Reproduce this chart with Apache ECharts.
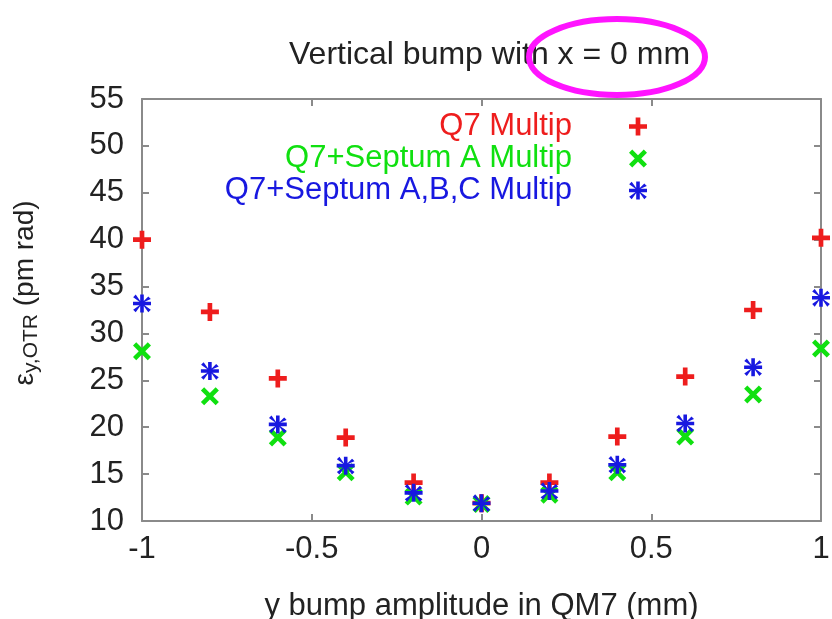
<!DOCTYPE html>
<html>
<head>
<meta charset="utf-8">
<script src="https://cdn.jsdelivr.net/npm/echarts@6/dist/echarts.min.js"></script>
<style>
  html, body { margin: 0; padding: 0; background: #fff; }
  #container { width: 832px; height: 619px; }
</style>
</head>
<body>
<div id="container"></div>
<script>
// bump amplitude (mm)
var bumpY = [-1, -0.8, -0.6, -0.4, -0.2, 0, 0.2, 0.4, 0.6, 0.8, 1];
// emittance values (pm rad)
var q7Multip = [40.0, 32.3, 25.2, 18.9, 14.1, 11.9, 14.1, 19.0, 25.4, 32.5, 40.2];
var septAMultip = [28.1, 23.3, 18.9, 15.2, 12.6, 11.8, 12.8, 15.2, 19.0, 23.5, 28.4];
var septABCMultip = [33.2, 26.0, 20.3, 15.9, 13.0, 11.9, 13.2, 16.0, 20.4, 26.4, 33.8];

var seriesNames = ['Q7 Multip', 'Q7+Septum A Multip', 'Q7+Septum A,B,C Multip'];
var seriesColors = ['#ee1d1d', '#10e010', '#1818e0'];

// marker shapes (gnuplot style +, x, *)
var plusPath = 'path://M3.7,0 H6.3 V3.7 H10 V6.3 H6.3 V10 H3.7 V6.3 H0 V3.7 H3.7 Z';
var crossPath = 'path://M0,1.8 L1.8,0 L5,3.2 L8.2,0 L10,1.8 L6.8,5 L10,8.2 L8.2,10 L5,6.8 L1.8,10 L0,8.2 L3.2,5 Z';
var starPath = 'path://M4,0 H6 V3.6 L8.5,1.1 L8.9,1.5 L9.9,2.5 L6.4,4 H10 V6 H6.4 L9.9,8.5 L8.5,9.9 L6,6.4 V10 H4 V6.4 L1.5,9.9 L0.1,8.5 L3.6,6 H0 V4 H3.6 L0.1,1.5 L1.5,0.1 L4,3.6 Z';
var symbols = [plusPath, crossPath, starPath];

function pairs(vals) {
    var out = [];
    for (var i = 0; i < bumpY.length; i++) {
        out.push([bumpY[i], vals[i]]);
    }
    return out;
}

var dom = document.getElementById('container');
var myChart = echarts.init(dom);

var fontFam = 'Liberation Sans, Arial, sans-serif';
var axisGray = '#8a8a8a';
var fs = 31;

function frameAxis(extra) {
    var ax = {
        axisLine: { show: true, onZero: false, lineStyle: { color: axisGray, width: 2 } },
        axisTick: { show: true, inside: true, length: 7, lineStyle: { color: axisGray, width: 2 } },
        axisLabel: { show: false },
        splitLine: { show: false }
    };
    for (var k in extra) ax[k] = extra[k];
    return ax;
}

var option = {
    animation: false,
    backgroundColor: '#fff',
    title: {
        text: 'Vertical bump with x = 0 mm',
        left: 284,
        top: 34,
        textStyle: { fontFamily: fontFam, fontSize: 32, fontWeight: 'normal', color: '#222' }
    },
    legend: {
        orient: 'vertical',
        right: 180,
        top: 106,
        align: 'right',
        itemWidth: 18,
        itemHeight: 18,
        itemGap: 1,
        textStyle: { fontFamily: fontFam, fontSize: fs, lineHeight: 31, padding: [0, 52, 0, 0] },
        data: [
            { name: seriesNames[0], textStyle: { color: seriesColors[0] } },
            { name: seriesNames[1], textStyle: { color: seriesColors[1] } },
            { name: seriesNames[2], textStyle: { color: seriesColors[2] } }
        ]
    },
    grid: { left: 142, right: 11, top: 99, bottom: 98, outerBoundsMode: 'none' },
    xAxis: [frameAxis({
        type: 'value',
        min: -1, max: 1, interval: 0.5,
        name: 'y bump amplitude in QM7 (mm)',
        nameLocation: 'middle',
        nameGap: 70,
        nameTextStyle: { fontFamily: fontFam, fontSize: fs, color: '#222' },
        axisLabel: { show: true, fontFamily: fontFam, fontSize: fs, color: '#222', margin: 13 }
    }), frameAxis({
        type: 'value', position: 'top',
        min: -1, max: 1, interval: 0.5
    })],
    yAxis: [frameAxis({
        type: 'value',
        min: 10, max: 55, interval: 5,
        name: '{e|ε}{s|y,OTR}{n| (pm rad)}',
        nameLocation: 'middle',
        nameRotate: 90,
        nameGap: 100,
        nameTextStyle: {
            fontFamily: fontFam, fontSize: 28, color: '#222',
            padding: [0, 0, 0, 34],
            rich: {
                e: { fontFamily: fontFam, fontSize: 28, color: '#222' },
                s: { fontFamily: fontFam, fontSize: 21, color: '#222', padding: [12, 0, 0, 0] },
                n: { fontFamily: fontFam, fontSize: 28, color: '#222' }
            }
        },
        axisLabel: { show: true, fontFamily: fontFam, fontSize: fs, color: '#222', margin: 18 }
    }), frameAxis({
        type: 'value', position: 'right',
        min: 10, max: 55, interval: 5
    })],
    series: [q7Multip, septAMultip, septABCMultip].map(function (vals, i) {
        return {
            name: seriesNames[i],
            type: 'scatter',
            clip: false,
            symbol: symbols[i],
            symbolSize: 18,
            itemStyle: { color: seriesColors[i], opacity: 1 },
            data: pairs(vals)
        };
    }),
    graphic: [{
        type: 'ellipse',
        z: 100,
        shape: { cx: 617, cy: 57, rx: 88, ry: 38 },
        style: { fill: 'none', stroke: '#ff14ff', lineWidth: 6 }
    }]
};

if (option && typeof option === 'object') {
    myChart.setOption(option, true);
}
</script>
</body>
</html>
